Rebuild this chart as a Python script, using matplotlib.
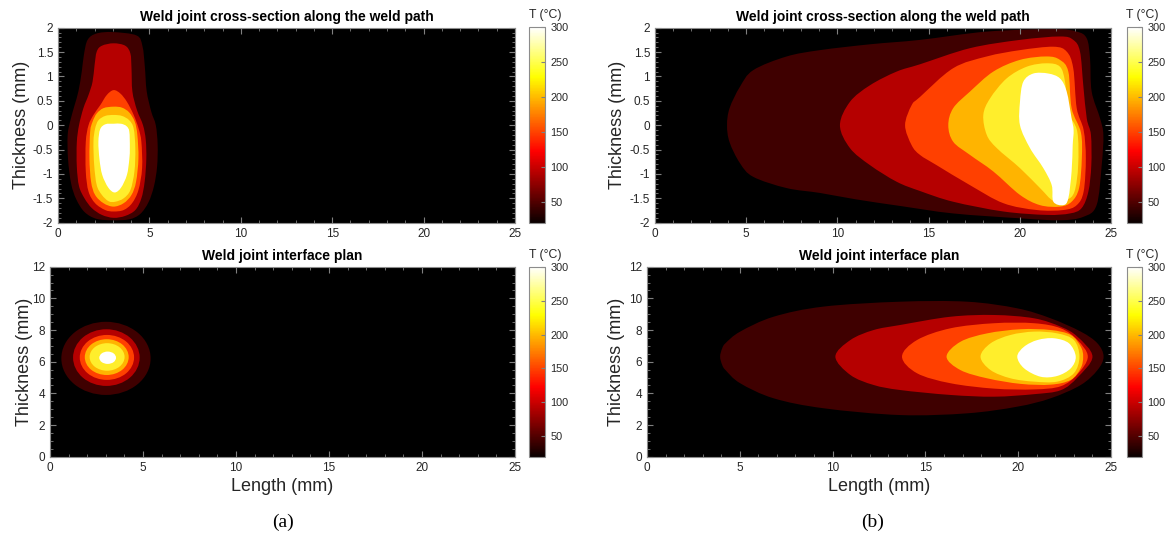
import numpy as np
import matplotlib
matplotlib.use('Agg')
import matplotlib.pyplot as plt
from matplotlib.path import Path
from matplotlib.patches import PathPatch, Ellipse
from matplotlib.colors import Normalize
from matplotlib.cm import ScalarMappable
from matplotlib.ticker import MultipleLocator

plt.rcParams['font.family'] = ['Liberation Sans', 'DejaVu Sans']

# isotherm levels (degC) and colour range of the colorbar
levels = [50, 100, 150, 200, 250, 300]
t_min, t_max = 20, 300
cb_ticks = [50, 100, 150, 200, 250, 300]

# (a) cross-section: isotherm outlines (x = length mm, y = thickness mm)
sec_a_x = [
    [3.0, 4.3, 4.62, 4.75, 4.85, 5.1, 5.35, 5.45, 5.42, 5.25, 4.95, 4.5, 3.9, 3.0, 2.1, 1.45, 1.0, 0.72, 0.55, 0.53, 0.68, 0.9, 1.12, 1.3, 1.42, 1.62, 2.1],
    [3.04, 3.68, 3.96, 4.02, 4.07, 4.32, 4.65, 4.8, 4.83, 4.74, 4.56, 4.23, 3.68, 3.04, 2.4, 1.85, 1.45, 1.15, 1.03, 1.03, 1.15, 1.39, 1.67, 1.89, 2.0, 2.12, 2.4],
    [3.04, 3.41, 3.77, 4.14, 4.41, 4.56, 4.6, 4.4, 4.05, 3.59, 3.04, 2.58, 2.03, 1.67, 1.52, 1.52, 1.67, 1.94, 2.31, 2.67],
    [3.04, 3.5, 3.9, 4.2, 4.34, 4.4, 4.27, 4.02, 3.59, 3.04, 2.49, 2.03, 1.81, 1.72, 1.76, 1.89, 2.12, 2.49],
    [3.04, 3.5, 3.9, 4.14, 4.23, 4.18, 3.96, 3.59, 3.13, 2.77, 2.4, 2.12, 1.98, 1.94, 2.03, 2.21, 2.58],
    [3.04, 3.45, 3.75, 3.9, 3.93, 3.9, 3.77, 3.45, 3.1, 2.75, 2.42, 2.27, 2.21, 2.31, 2.6],
]
sec_a_y = [
    [1.91, 1.84, 1.62, 1.2, 0.7, 0.28, 0.0, -0.4, -0.85, -1.25, -1.58, -1.82, -1.93, -1.95, -1.92, -1.78, -1.52, -1.2, -0.7, -0.2, 0.1, 0.4, 0.7, 1.1, 1.45, 1.75, 1.88],
    [1.68, 1.63, 1.47, 1.17, 0.69, 0.31, 0.0, -0.3, -0.7, -1.16, -1.5, -1.74, -1.86, -1.9, -1.84, -1.7, -1.5, -1.25, -0.85, -0.35, 0.0, 0.35, 0.62, 0.89, 1.23, 1.51, 1.63],
    [0.72, 0.65, 0.48, 0.21, -0.07, -0.34, -0.88, -1.33, -1.6, -1.74, -1.77, -1.74, -1.6, -1.36, -0.95, -0.34, 0.0, 0.21, 0.41, 0.62],
    [0.38, 0.36, 0.26, 0.07, -0.2, -0.68, -1.16, -1.43, -1.6, -1.67, -1.6, -1.43, -1.16, -0.68, -0.13, 0.07, 0.24, 0.35],
    [0.21, 0.19, 0.1, -0.07, -0.48, -0.95, -1.33, -1.5, -1.57, -1.56, -1.43, -1.23, -0.82, -0.34, -0.07, 0.1, 0.19],
    [0.03, 0.03, -0.02, -0.13, -0.45, -0.7, -1.02, -1.28, -1.38, -1.28, -1.02, -0.7, -0.34, -0.08, 0.02],
]

# (b) cross-section
sec_b_x = [
    [3.95, 4.09, 4.66, 5.39, 7.22, 9.05, 11.8, 14.53, 18.19, 21.84, 23.12, 23.67, 23.85, 23.94, 24.4, 24.58, 24.49, 24.21, 23.48, 22.2, 20.01, 16.35, 13.5, 11.0, 9.05, 7.22, 5.39, 4.66, 4.09],
    [10.14, 10.69, 11.79, 13.25, 14.53, 17.27, 20.01, 22.2, 22.93, 23.3, 23.48, 23.67, 23.9, 23.92, 23.76, 23.39, 22.75, 21.47, 19.1, 16.35, 14.53, 13.25, 11.79, 10.69],
    [13.71, 14.07, 14.53, 16.35, 18.19, 20.01, 21.84, 22.57, 22.93, 23.12, 23.5, 23.62, 23.5, 23.12, 22.39, 20.93, 19.1, 17.27, 15.44, 14.53, 14.07],
    [16.08, 16.35, 17.27, 18.55, 20.01, 21.47, 22.2, 22.66, 22.84, 23.35, 23.4, 23.25, 22.84, 22.2, 21.11, 20.01, 18.55, 17.27, 16.35],
    [18.0, 18.37, 19.28, 20.38, 21.47, 22.2, 22.48, 22.66, 23.15, 23.2, 23.0, 22.57, 21.84, 21.11, 20.01, 18.74, 18.19],
    [20.74, 21.56, 22.2, 22.57, 22.84, 22.95, 22.9, 22.84, 22.66, 22.39, 21.84, 21.75, 21.29, 20.56, 20.01, 20.01, 20.19],
]
sec_b_y = [
    [0.0, 0.35, 0.79, 1.13, 1.41, 1.54, 1.66, 1.75, 1.92, 1.97, 1.92, 1.78, 1.37, 0.69, 0.14, -0.2, -0.82, -1.64, -1.88, -1.95, -1.91, -1.81, -1.66, -1.52, -1.39, -1.29, -1.06, -0.78, -0.35],
    [0.0, 0.48, 0.82, 1.1, 1.25, 1.58, 1.75, 1.82, 1.75, 1.51, 0.82, 0.14, -0.2, -0.82, -1.36, -1.7, -1.81, -1.84, -1.77, -1.57, -1.35, -1.16, -0.82, -0.47],
    [0.0, 0.41, 0.58, 1.17, 1.41, 1.54, 1.61, 1.51, 1.17, 0.35, -0.1, -0.68, -1.36, -1.64, -1.74, -1.74, -1.6, -1.23, -0.82, -0.61, -0.41],
    [0.0, 0.35, 0.69, 1.1, 1.34, 1.41, 1.34, 1.1, 0.35, -0.15, -0.68, -1.29, -1.57, -1.67, -1.64, -1.43, -0.95, -0.61, -0.34],
    [0.21, 0.55, 0.96, 1.2, 1.27, 1.2, 0.89, 0.28, -0.13, -0.82, -1.36, -1.53, -1.55, -1.29, -0.88, -0.47, -0.2],
    [1.06, 1.06, 0.96, 0.69, 0.14, -0.1, -0.41, -0.95, -1.5, -1.64, -1.57, -1.23, -0.88, -0.47, 0.0, 0.48, 0.89],
]

# (a) interface plan: elliptical isotherms (centre and semi-axes, mm)
plan_a_cx = [3.01, 3.03, 3.06, 3.05, 3.07, 3.1]
plan_a_cy = [6.21, 6.26, 6.27, 6.29, 6.3, 6.25]
plan_a_rx = [2.4, 1.79, 1.46, 1.18, 0.94, 0.45]
plan_a_ry = [2.31, 1.79, 1.42, 1.13, 0.87, 0.39]

# (b) interface plan
plan_b_x = [
    [3.94, 4.05, 4.24, 5.02, 6.82, 9.51, 13.65, 17.25, 19.95, 21.75, 23.37, 24.27, 24.6, 24.27, 23.37, 21.75, 19.95, 17.25, 13.65, 9.51, 6.82, 5.02, 4.24, 4.05],
    [10.15, 10.96, 12.21, 13.65, 16.35, 18.7, 20.86, 22.29, 23.19, 24.0, 23.19, 22.29, 20.86, 18.7, 16.35, 13.65, 12.21, 10.96],
    [13.74, 14.55, 16.35, 18.7, 20.86, 22.29, 23.19, 23.75, 23.19, 22.29, 20.86, 18.7, 16.35, 14.55],
    [16.14, 16.89, 18.33, 20.13, 21.75, 22.83, 23.37, 23.5, 23.37, 22.83, 21.75, 20.13, 18.33, 16.89],
    [17.97, 18.51, 19.59, 20.86, 22.1, 23.0, 23.3, 23.0, 22.1, 20.86, 19.59, 18.51],
    [19.95, 20.32, 21.04, 21.93, 22.74, 23.1, 22.83, 22.1, 21.21, 20.32],
]
plan_b_y = [
    [6.32, 6.84, 7.18, 7.9, 8.84, 9.48, 9.79, 9.79, 9.37, 8.74, 7.9, 7.16, 6.32, 5.47, 4.53, 3.69, 3.16, 2.74, 2.63, 3.06, 3.69, 4.64, 5.46, 5.8],
    [6.32, 7.37, 8.0, 8.32, 8.84, 8.95, 8.74, 8.21, 7.58, 6.32, 5.0, 4.2, 3.95, 3.79, 3.9, 4.21, 4.53, 5.16],
    [6.32, 7.37, 8.11, 8.43, 8.43, 8.11, 7.37, 6.32, 5.2, 4.45, 4.25, 4.3, 4.64, 5.27],
    [6.32, 7.26, 7.79, 8.05, 8.0, 7.69, 6.95, 6.32, 5.6, 4.85, 4.55, 4.6, 4.95, 5.47],
    [6.32, 7.16, 7.69, 7.9, 7.79, 7.37, 6.32, 5.27, 4.74, 4.74, 4.95, 5.47],
    [6.32, 6.95, 7.37, 7.48, 7.16, 6.32, 5.58, 5.1, 5.05, 5.58],
]

band_colors = ['#3f0000', '#b50000', '#ff4000', '#ffb400', '#ffee2c', '#ffffff']
txt = '#262626'


def smooth_path(xs, ys):
    # closed Catmull-Rom curve through the read points, drawn as Bezier segments
    p = np.column_stack([xs, ys])
    n = len(p)
    verts = [p[0]]
    codes = [Path.MOVETO]
    for i in range(n):
        p0, p1, p2, p3 = p[i - 1], p[i], p[(i + 1) % n], p[(i + 2) % n]
        verts += [p1 + (p2 - p0) / 6, p2 - (p3 - p1) / 6, p2]
        codes += [Path.CURVE4] * 3
    verts.append(p[0])
    codes.append(Path.CLOSEPOLY)
    return Path(verts, codes)


def style_axes(ax, ylim, ymaj, ymin):
    ax.set_facecolor('black')
    ax.set_xlim(0, 25)
    ax.set_ylim(*ylim)
    ax.xaxis.set_major_locator(MultipleLocator(5))
    ax.xaxis.set_minor_locator(MultipleLocator(1))
    ax.yaxis.set_major_locator(MultipleLocator(ymaj))
    ax.yaxis.set_minor_locator(MultipleLocator(ymin))
    ax.tick_params(which='both', direction='in', top=True, right=True,
                   color='#808080', labelcolor=txt, labelsize=8.5)
    ax.tick_params(which='major', length=4)
    ax.tick_params(which='minor', length=2)
    for s in ax.spines.values():
        s.set_color('#8c8c8c')
        s.set_linewidth(0.8)


def add_cbar(fig, rect):
    cax = fig.add_axes(rect)
    sm = ScalarMappable(norm=Normalize(t_min, t_max), cmap='hot')
    cb = fig.colorbar(sm, cax=cax, ticks=cb_ticks)
    cb.outline.set_edgecolor('#8c8c8c')
    cb.outline.set_linewidth(0.8)
    cax.tick_params(direction='in', length=3, color='#808080', labelcolor=txt, labelsize=7.8, pad=4)
    cax.text(1.0, 1.03, 'T (°C)', transform=cax.transAxes, ha='center', va='bottom',
             fontsize=8.8, color=txt)


W, H = 1169, 543
fig = plt.figure(figsize=(W / 100, H / 100), dpi=100)


def rect(x0, y0, x1, y1):
    return [x0 / W, 1 - y1 / H, (x1 - x0) / W, (y1 - y0) / H]


ax_tl = fig.add_axes(rect(58, 27.7, 515, 222.7))
ax_tr = fig.add_axes(rect(655, 27.7, 1111, 222.7))
ax_bl = fig.add_axes(rect(50, 266.7, 515, 456.7))
ax_br = fig.add_axes(rect(647, 266.7, 1111, 456.7))

for ax, xs_list, ys_list in [(ax_tl, sec_a_x, sec_a_y), (ax_tr, sec_b_x, sec_b_y), (ax_br, plan_b_x, plan_b_y)]:
    for k, (xs, ys) in enumerate(zip(xs_list, ys_list)):
        ax.add_patch(PathPatch(smooth_path(xs, ys), facecolor=band_colors[k], edgecolor='none', zorder=1 + k))

for k in range(len(levels)):
    ax_bl.add_patch(Ellipse((plan_a_cx[k], plan_a_cy[k]), 2 * plan_a_rx[k], 2 * plan_a_ry[k],
                            facecolor=band_colors[k], edgecolor='none', zorder=1 + k))

for ax in (ax_tl, ax_tr):
    style_axes(ax, (-2, 2), 0.5, 0.1)
    ax.set_title('Weld joint cross-section along the weld path', fontsize=10, fontweight='bold', pad=5)
    ax.set_yticks([-2, -1.5, -1, -0.5, 0, 0.5, 1, 1.5, 2])
    ax.set_yticklabels(['-2', '-1.5', '-1', '-0.5', '0', '0.5', '1', '1.5', '2'])
for ax in (ax_bl, ax_br):
    style_axes(ax, (0, 12), 2, 0.5)
    ax.set_title('Weld joint interface plan', fontsize=10, fontweight='bold', pad=5)
    ax.set_xlabel('Length (mm)', fontsize=13, color=txt, labelpad=3)

for ax in (ax_tl, ax_tr, ax_bl, ax_br):
    ax.set_ylabel('Thickness (mm)', fontsize=13, color=txt)

ax_tl.yaxis.set_label_coords(-0.062, 0.5)
ax_tr.yaxis.set_label_coords(-0.064, 0.5)
ax_bl.yaxis.set_label_coords(-0.037, 0.5)
ax_br.yaxis.set_label_coords(-0.047, 0.5)

add_cbar(fig, rect(529, 27.3, 545, 222.7))
add_cbar(fig, rect(1127, 27.3, 1142, 222.7))
add_cbar(fig, rect(529, 266.7, 545, 456.7))
add_cbar(fig, rect(1127, 266.7, 1142, 456.7))

fig.text(283 / W, 1 - 522 / H, '(a)', family='Liberation Serif', fontsize=14, ha='center', va='center')
fig.text(873 / W, 1 - 522 / H, '(b)', family='Liberation Serif', fontsize=14, ha='center', va='center')

fig.savefig('out.png', dpi=100, facecolor='white')
